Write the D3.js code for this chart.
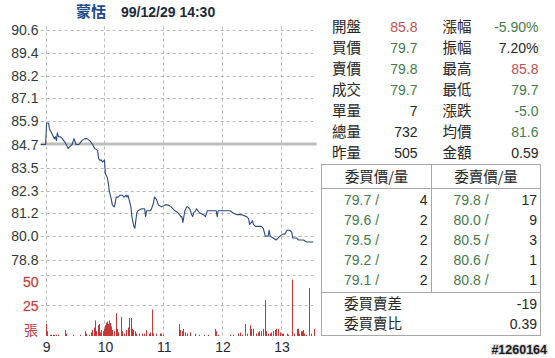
<!DOCTYPE html>
<html><head><meta charset="utf-8">
<script src="https://cdn.jsdelivr.net/npm/d3@7"></script>
<style>
body{margin:0;background:#fff;}
svg{display:block;font-family:"Liberation Sans",Arial,sans-serif;}
.cjk{font-family:"Noto Sans CJK TC","Noto Sans CJK SC",sans-serif;}
</style></head><body>
<svg id="c" width="555" height="358"></svg>
<script>
// ---------------- data ----------------
const stockName = "蒙恬";
const stampText = "99/12/29 14:30";
const prevClose = 84.7;
const priceTicks = [90.6, 89.4, 88.2, 87.1, 85.9, 84.7, 83.5, 82.3, 81.2, 80.0, 78.8];
const hourTicks = ["09:00", "10:00", "11:00", "12:00", "13:00"];
const hourLabels = ["9", "10", "11", "12", "13"];
const volTicks = [50, 25];
const volUnit = "張";
const timeStart = "08:55", timeEnd = "13:33";

const priceTimes = ["08:55","09:00","09:01","09:03","09:04","09:06","09:07","09:08","09:09","09:10",
"09:11","09:12","09:13","09:15","09:17","09:20","09:23","09:25","09:27","09:29",
"09:31","09:34","09:37","09:40","09:42","09:45","09:48","09:50","09:53","09:54",
"09:55","09:57","09:58","10:00","10:01","10:02","10:03","10:04","10:05","10:06",
"10:07","10:08","10:10","10:11","10:12","10:14","10:16","10:18","10:20","10:22",
"10:23","10:24","10:25","10:26","10:27","10:28","10:30","10:31","10:32","10:33",
"10:34","10:38","10:41","10:42","10:43","10:47","10:48","10:50","10:51","10:53",
"10:55","10:58","11:02","11:05","11:08","11:12","11:15","11:18","11:19","11:20",
"11:21","11:22","11:24","11:25","11:27","11:29","11:30","11:31","11:33","11:34",
"11:37","11:41","11:43","11:45","11:54","11:55","11:56","12:08","12:11","12:15",
"12:20","12:25","12:27","12:28","12:30","12:31","12:32","12:34","12:40","12:42",
"12:44","12:45","12:47","12:48","12:49","12:52","12:55","12:57","12:59","13:02",
"13:04","13:06","13:09","13:11","13:12","13:16","13:18","13:23","13:26","13:33"];
const prices = [84.7,84.7,85.8,85.8,85.5,85.3,85.2,85.1,85.0,85.1,
84.9,85.3,85.1,85.1,85.0,84.8,84.5,84.6,84.7,85.0,
84.7,84.7,84.9,85.0,85.0,84.9,84.7,84.5,84.4,84.0,
83.9,83.9,83.8,83.9,83.2,83.1,83.0,82.7,82.3,82.1,
81.9,81.6,81.5,81.7,82.0,82.0,82.1,82.1,82.0,82.1,
82.0,82.1,81.9,81.7,81.5,81.0,80.5,80.4,80.8,81.2,
81.3,81.4,81.4,81.0,81.3,81.3,81.4,81.7,82.0,81.9,
81.6,81.5,81.6,81.6,81.5,81.3,81.2,81.0,81.0,80.7,
81.0,81.3,81.5,81.5,81.4,81.1,81.0,81.2,81.3,81.4,
81.2,81.1,81.0,81.3,81.3,81.0,81.3,81.3,81.2,81.1,
81.1,81.0,80.9,80.6,80.7,80.8,80.6,80.5,80.5,80.4,
80.0,80.0,80.0,80.3,80.0,79.9,79.8,79.9,80.0,80.1,
80.1,80.3,80.3,80.2,79.9,79.9,79.8,79.8,79.7,79.7];

const volTimes = ["09:00","09:01","09:04","09:06","09:08","09:09","09:11","09:13","09:20","09:21",
"09:28","09:35","09:40","09:41","09:44","09:46","09:47","09:49","09:50","09:51",
"09:53","09:54","09:55","09:57","09:59","10:00","10:01","10:02","10:03","10:04",
"10:05","10:06","10:07","10:08","10:10","10:12","10:13","10:14","10:17","10:18",
"10:20","10:22","10:24","10:25","10:27","10:28","10:29","10:31","10:32","10:35",
"10:38","10:40","10:42","10:45","10:46","10:49","10:50","10:53","10:57","10:58",
"11:00","11:16","11:17","11:19","11:20","11:22","11:24","11:27","11:32","11:36",
"11:42","11:46","11:53","11:54","11:56","12:08","12:11","12:16","12:18","12:20",
"12:23","12:25","12:28","12:29","12:31","12:32","12:35","12:37","12:38","12:40",
"12:42","12:44","12:45","12:47","12:49","12:50","12:52","12:54","12:55","12:57",
"12:59","13:01","13:02","13:06","13:07","13:11","13:13","13:16","13:17","13:18",
"13:20","13:21","13:23","13:24","13:26","13:29","13:31","13:34"];
const volumes = [10,4,1,1,1,1,1,1,5,2,
1,1,4,2,1,3,5,7,13,4,
9,10,3,5,4,6,9,11,12,10,
13,11,8,5,4,19,6,3,16,4,
2,5,7,15,15,6,5,4,2,2,
2,2,5,2,3,22,2,2,2,2,
1,10,5,4,6,3,2,3,2,1,
1,1,6,4,1,1,1,2,3,1,
10,2,9,6,6,4,2,3,4,4,
6,30,4,2,2,3,4,5,6,6,
3,2,2,2,1,47,2,6,6,2,
4,4,5,2,1,40,2,6];

const infoLabelsL = ["開盤","買價","賣價","成交","單量","總量","昨量"];
const infoValuesL = ["85.8","79.7","79.8","79.7","7","732","505"];
const infoLabelsR = ["漲幅","振幅","最高","最低","漲跌","均價","金額"];
const infoValuesR = ["-5.90%","7.20%","85.8","79.7","-5.0","81.6","0.59"];
const bookHeaders = ["委買價/量","委賣價/量"];
const bidPrices = ["79.7","79.6","79.5","79.2","79.1"];
const bidQty = [4,2,2,2,2];
const askPrices = ["79.8","80.0","80.5","80.6","80.8"];
const askQty = [17,9,3,1,1];
const summaryLabels = ["委買賣差","委買賣比"];
const summaryValues = ["-19","0.39"];
const serialText = "#1260164";

// ---------------- styles ----------------
const C = {
  line: "#2c4a7e", bar: "#c63838", grid: "#b8b8b8", ref: "#bdbdbd",
  axis: "#2e3a3a", volAxis: "#b84040", red: "#c35050", green: "#467a4e", dark: "#262626",
  title: "#234a8a", border: "#a8a8a8"
};
const svg = d3.select("#c");
const parse = d3.timeParse("%H:%M");

// scales
const x = d3.scaleTime().domain([parse(timeStart), parse(timeEnd)]).range([40.7, 313.3]);
const y = d3.scaleLinear().domain([78.8, 90.6]).range([259.5, 29.5]);
const vy = d3.scaleLinear().domain([0, 50]).range([336, 276]);

// title
svg.append("text").attr("class","cjk").attr("x",76).attr("y",17)
  .attr("font-size",15).attr("font-weight","bold").attr("fill",C.title).text(stockName);
svg.append("text").attr("x",121).attr("y",16.5)
  .attr("font-size",14).attr("font-weight","bold").attr("fill","#1d2b38").text(stampText);

// horizontal grid (price)
const g = svg.append("g");
g.selectAll(".hg").data(priceTicks).join("line")
  .attr("x1",x.range()[0]).attr("x2",x.range()[1])
  .attr("y1",d=>Math.round(y(d))+0.5).attr("y2",d=>Math.round(y(d))+0.5)
  .attr("stroke",C.grid).attr("stroke-dasharray","3,3");
// volume grid
g.selectAll(".vg").data(volTicks).join("line")
  .attr("x1",x.range()[0]).attr("x2",x.range()[1])
  .attr("y1",d=>Math.round(vy(d))-0.5).attr("y2",d=>Math.round(vy(d))-0.5)
  .attr("stroke",C.grid).attr("stroke-dasharray","3,3");
// vertical grid
g.selectAll(".vgl").data(hourTicks).join("line")
  .attr("x1",d=>Math.round(x(parse(d)))+0.5).attr("x2",d=>Math.round(x(parse(d)))+0.5)
  .attr("y1",y(90.6)-3).attr("y2",vy(0)+1)
  .attr("stroke",C.grid).attr("stroke-dasharray","3,3");

// y labels
svg.selectAll(".yl").data(priceTicks).join("text")
  .attr("x",38.5).attr("y",d=>y(d)).attr("dy","0.36em")
  .attr("text-anchor","end").attr("font-size",14).attr("fill",C.axis)
  .text(d=>d.toFixed(1));
// volume labels
svg.selectAll(".vl").data(volTicks).join("text")
  .attr("x",38.5).attr("y",d=>vy(d)).attr("dy",d=>d===50?"0.75em":"0.36em")
  .attr("text-anchor","end").attr("font-size",14).attr("fill",C.volAxis)
  .style("paint-order","stroke").attr("stroke","#f6dede").attr("stroke-width",1.5)
  .text(d=>d);
svg.append("text").attr("class","cjk").attr("x",38).attr("y",vy(0)).attr("dy","-0.05em")
  .attr("text-anchor","end").attr("font-size",14).attr("fill",C.volAxis).text(volUnit);

// x labels
svg.selectAll(".xl").data(hourTicks).join("text")
  .attr("x",d=>x(parse(d))+1).attr("y",352)
  .attr("text-anchor","middle").attr("font-size",14).attr("fill","#1e2a3a")
  .text((d,i)=>hourLabels[i]);

// reference line (previous close)
svg.append("line").attr("x1",x.range()[0]).attr("x2",x.range()[1]+3.4)
  .attr("y1",y(prevClose)-0.5).attr("y2",y(prevClose)-0.5)
  .attr("stroke",C.ref).attr("stroke-width",3);

// price line
const pts = priceTimes.map((t,i)=>[parse(t), prices[i]]);
svg.append("path").datum(pts)
  .attr("d", d3.line().x(d=>x(d[0])).y(d=>y(d[1])))
  .attr("fill","none").attr("stroke",C.line).attr("stroke-width",1.1)
  .attr("stroke-linejoin","round");

// volume bars
svg.selectAll(".vb").data(volTimes.map((t,i)=>[parse(t), volumes[i]])).join("rect")
  .attr("x",d=>Math.round(x(d[0]))).attr("width",1)
  .attr("y",d=>vy(d[1])).attr("height",d=>vy(0)-vy(d[1]))
  .attr("fill",C.bar);

// ---------------- info panel ----------------
function priceColor(v){ const n=parseFloat(v); return n>prevClose?C.red:(n<prevClose?C.green:C.dark); }
const leftColors = infoValuesL.map((v,i)=> i<4 ? priceColor(v) : C.dark);
const rightColors = [C.green, C.dark, priceColor(infoValuesR[2]), priceColor(infoValuesR[3]), C.green, priceColor(infoValuesR[5]), C.dark];
const rowY = d3.scaleLinear().domain([0,6]).range([31.5,157.5]);
const info = svg.append("g");
info.selectAll(".la").data(infoLabelsL).join("text").attr("class","cjk")
  .attr("x",332).attr("y",(d,i)=>rowY(i)).attr("font-size",14.5).attr("fill",C.dark).text(d=>d);
info.selectAll(".va").data(infoValuesL).join("text")
  .attr("x",417.5).attr("y",(d,i)=>rowY(i)).attr("text-anchor","end")
  .attr("font-size",14).attr("fill",(d,i)=>leftColors[i]).text(d=>d);
info.selectAll(".lb").data(infoLabelsR).join("text").attr("class","cjk")
  .attr("x",442.5).attr("y",(d,i)=>rowY(i)).attr("font-size",14.5).attr("fill",C.dark).text(d=>d);
info.selectAll(".vb2").data(infoValuesR).join("text")
  .attr("x",538.5).attr("y",(d,i)=>rowY(i)).attr("text-anchor","end")
  .attr("font-size",14).attr("fill",(d,i)=>rightColors[i]).text(d=>d);

// ---------------- order book ----------------
const bx0=321.5, bx1=540.5, by0=164.5, by1=335.5, bmid=431.5, bhead=188.5, bsum=292.5;
const book = svg.append("g");
book.append("rect").attr("x",bx0).attr("y",by0).attr("width",bx1-bx0).attr("height",by1-by0)
  .attr("fill","none").attr("stroke",C.border);
book.append("line").attr("x1",bx0).attr("x2",bx1).attr("y1",bhead).attr("y2",bhead).attr("stroke",C.border);
book.append("line").attr("x1",bx0).attr("x2",bx1).attr("y1",bsum).attr("y2",bsum).attr("stroke",C.border);
book.append("line").attr("x1",bmid).attr("x2",bmid).attr("y1",by0).attr("y2",bsum).attr("stroke",C.border);
book.selectAll(".bh").data(bookHeaders).join("text").attr("class","cjk")
  .attr("x",(d,i)=>i===0?(bx0+bmid)/2:(bmid+bx1)/2).attr("y",181.5)
  .attr("text-anchor","middle").attr("font-size",14.5).attr("fill",C.dark).text(d=>d);
const bookY = d3.scaleLinear().domain([0,4]).range([205,284.5]);
book.selectAll(".bp").data(bidPrices).join("text")
  .attr("x",344).attr("y",(d,i)=>bookY(i)).attr("font-size",14)
  .attr("fill",d=>priceColor(d)).text(d=>d+" /");
book.selectAll(".bq").data(bidQty).join("text")
  .attr("x",427.5).attr("y",(d,i)=>bookY(i)).attr("text-anchor","end").attr("font-size",14)
  .attr("fill",C.dark).text(d=>d);
book.selectAll(".ap").data(askPrices).join("text")
  .attr("x",453.5).attr("y",(d,i)=>bookY(i)).attr("font-size",14)
  .attr("fill",d=>priceColor(d)).text(d=>d+" /");
book.selectAll(".aq").data(askQty).join("text")
  .attr("x",537).attr("y",(d,i)=>bookY(i)).attr("text-anchor","end").attr("font-size",14)
  .attr("fill",C.dark).text(d=>d);
book.selectAll(".sl").data(summaryLabels).join("text").attr("class","cjk")
  .attr("x",344).attr("y",(d,i)=>308.5+i*20).attr("font-size",14.5).attr("fill",C.dark).text(d=>d);
book.selectAll(".sv").data(summaryValues).join("text")
  .attr("x",537).attr("y",(d,i)=>308.5+i*20).attr("text-anchor","end").attr("font-size",14)
  .attr("fill",C.dark).text(d=>d);

// serial
svg.append("text").attr("x",547).attr("y",353.5).attr("text-anchor","end")
  .attr("font-size",12.5).attr("font-weight","bold").attr("fill","#1a1a1a")
  .attr("stroke","#d8d8d8").attr("stroke-width",2).style("paint-order","stroke")
  .text(serialText);
</script>
</body></html>
